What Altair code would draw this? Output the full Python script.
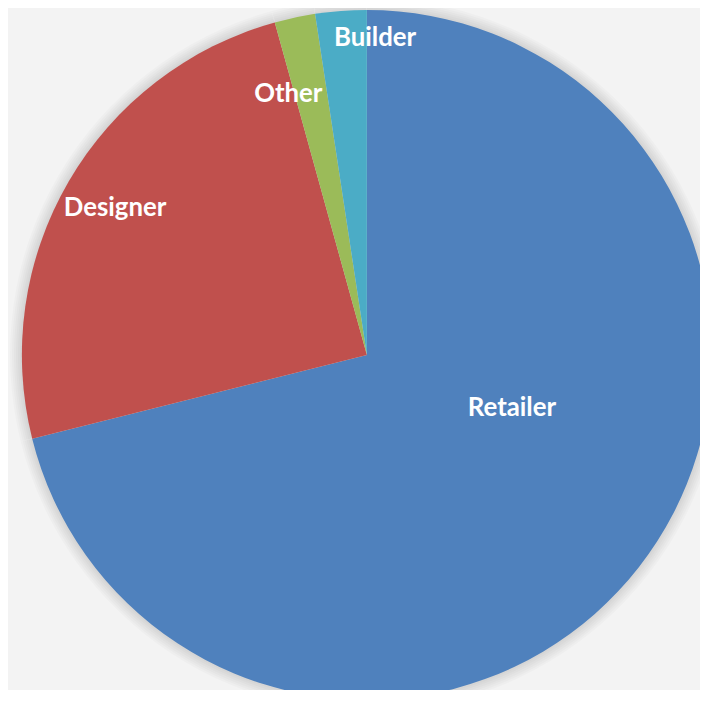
import altair as alt
import pandas as pd

# ---- data ----
categories = ["Retailer", "Designer", "Other", "Builder"]
shares = [71.1, 24.6, 1.9, 2.4]          # percent of the pie
slice_order = [0, 1, 2, 3]               # clockwise from 12 o'clock
colors = ["#4F81BD", "#C0504D", "#9BBB59", "#4BACC6"]

df = pd.DataFrame({"category": categories, "share": shares, "order": slice_order})

# ---- layout / style ----
CX, CY, R = 362, 347, 348
W, H = 698, 682

# label placement (style): angular shift from slice middle (deg) and distance from centre (px)
label_shift = {"Retailer": -17.7, "Designer": 0.0, "Other": -4.7, "Builder": 5.8}
label_dist = {"Retailer": 156, "Designer": 294, "Other": 275, "Builder": 320}


def lookup_expr(d):
    expr = "0"
    for k, v in d.items():
        expr = f"(datum.category == '{k}' ? {v} : {expr})"
    return expr


color_scale = alt.Scale(domain=categories, range=colors)

base = alt.Chart(df).encode(
    theta=alt.Theta("share:Q", stack=True),
    order=alt.Order("order:Q"),
    x=alt.value(CX),
    y=alt.value(CY),
)

# soft shadow rings around the pie
shadows = [
    base.mark_arc(radius=R + k, color="#000000", opacity=0.018)
    for k in (12, 10, 8, 6, 4, 2)
]

pie = base.mark_arc(radius=R).encode(
    color=alt.Color("category:N", scale=color_scale, legend=None)
)

labels = (
    alt.Chart(df)
    .transform_window(cum="sum(share)", sort=[alt.SortField("order")], frame=[None, 0])
    .transform_joinaggregate(total="sum(share)")
    .transform_calculate(
        mid=f"(datum.cum - datum.share / 2) / datum.total * 2 * PI + ({lookup_expr(label_shift)}) * PI / 180",
        dist=lookup_expr(label_dist),
    )
    .transform_calculate(
        lx=f"{CX} + datum.dist * sin(datum.mid)",
        ly=f"{CY} - datum.dist * cos(datum.mid)",
    )
    .mark_text(
        font="Lato",
        fontSize=26,
        fontWeight="bold",
        color="white",
        align="center",
        baseline="middle",
    )
    .encode(
        x=alt.X("lx:Q", scale=None, axis=None),
        y=alt.Y("ly:Q", scale=None, axis=None),
        text="category:N",
    )
)

chart = (
    alt.layer(*shadows, pie, labels)
    .properties(
        width=W,
        height=H,
        autosize=alt.AutoSizeParams(type="none"),
        padding=0,
        background="#f3f3f3",
    )
    .configure_view(stroke=None)
)

chart.save("out.html", embed_options={"renderer": "svg", "actions": False})
